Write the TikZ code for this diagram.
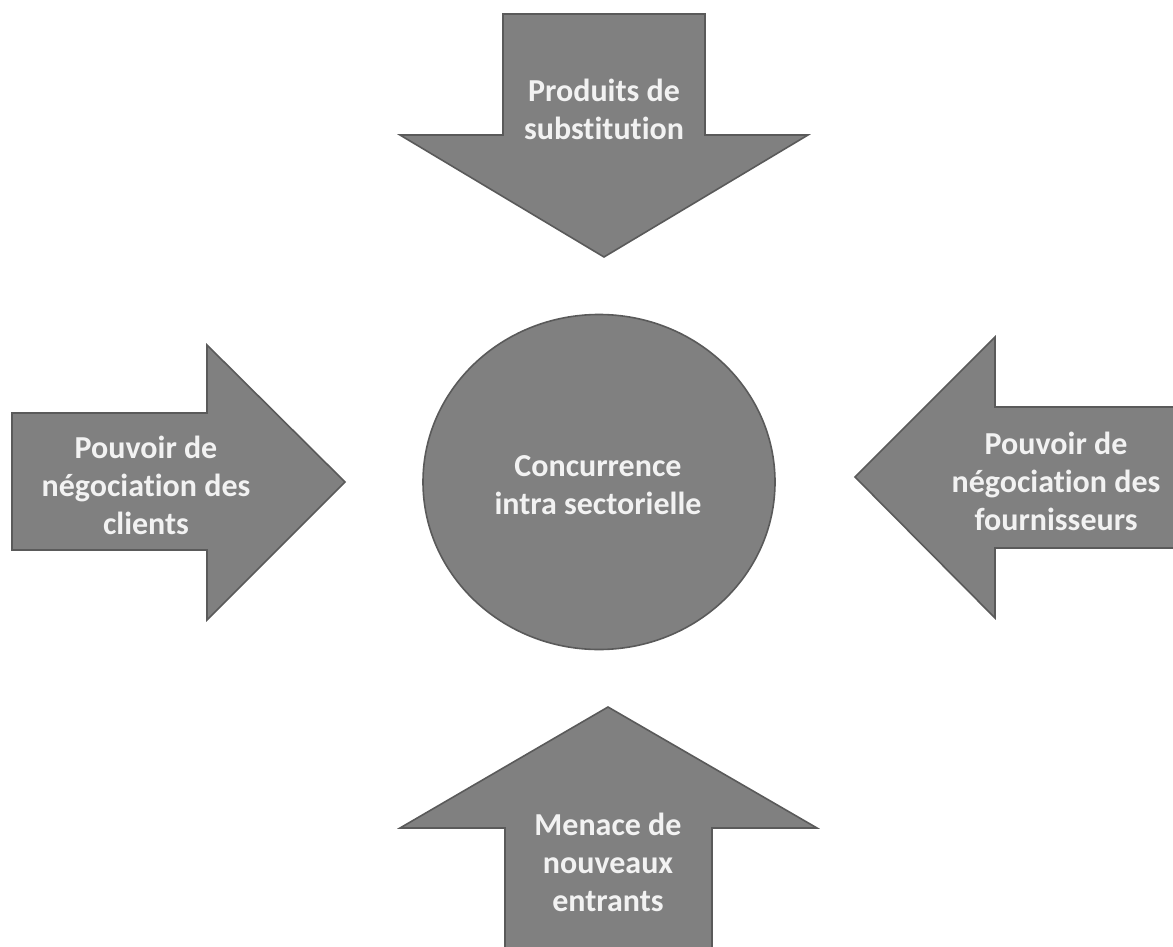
\documentclass[tikz,border=0pt]{standalone}
\usepackage{fontspec}
\setmainfont{Carlito}[RawFeature={-liga}]
\usetikzlibrary{shapes.geometric}
\definecolor{forcefill}{RGB}{128,128,128}
\definecolor{forceedge}{RGB}{90,90,90}
\definecolor{forcetext}{RGB}{242,242,242}
\tikzset{
  forceshape/.style={fill=forcefill, draw=forceedge, line width=0.8pt, line join=miter},
  forcelabel/.style={align=center, text=forcetext, font=\fontsize{16}{19}\selectfont\bfseries, inner sep=0pt}
}
\begin{document}
\begin{tikzpicture}[x=0.5pt, y=-0.5pt]
\useasboundingbox (0,0) rectangle (1173,947);
% centre
\node[ellipse, forceshape, minimum width=176pt, minimum height=167.5pt, inner sep=0pt] (centre) at (599,482){};
\node[forcelabel] (centretxt) at (598,485){Concurrence\\intra sectorielle};
% haut
\draw[forceshape] (503,14) -- (705,14) -- (705,135) -- (808,135) -- (604,257) -- (400,135) -- (503,135) -- cycle;
\node[forcelabel] (subst) at (604,109){Produits de\\substitution};
% gauche
\draw[forceshape] (12,413) -- (207,413) -- (207,345) -- (345,482) -- (207,620) -- (207,550) -- (12,550) -- cycle;
\node[forcelabel] (clients) at (146,485){Pouvoir de\\négociation des\\clients};
% droite
\draw[forceshape] (1180,407) -- (995,407) -- (995,337) -- (855,477) -- (995,618) -- (995,548) -- (1180,548) -- cycle;
\node[forcelabel] (fourn) at (1056,481){Pouvoir de\\négociation des\\fournisseurs};
% bas
\draw[forceshape] (505,955) -- (505,828) -- (400,828) -- (608,707) -- (817,828) -- (712,828) -- (712,955) -- cycle;
\node[forcelabel] (entrants) at (608,862){Menace de\\nouveaux\\entrants};

\end{tikzpicture}
\end{document}
